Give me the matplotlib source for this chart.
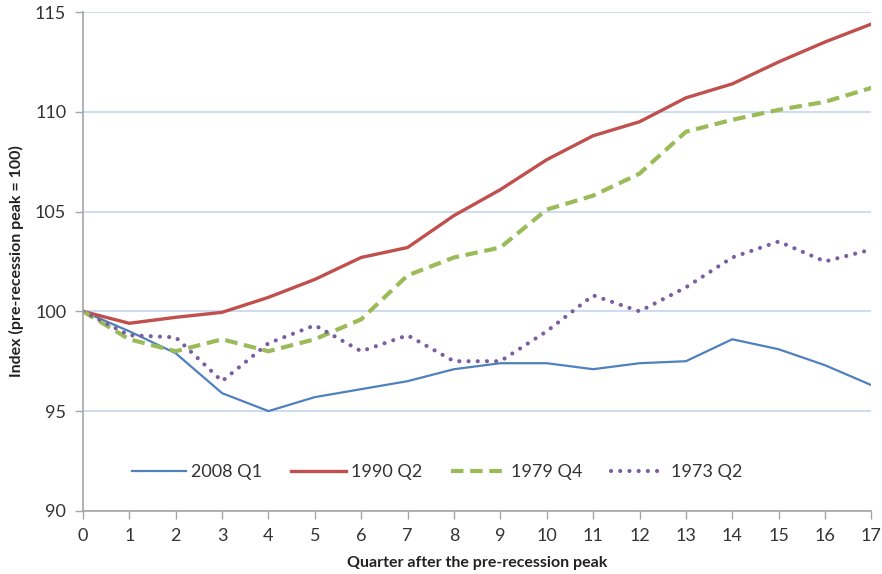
import matplotlib
matplotlib.use('Agg')
import matplotlib.pyplot as plt

# Data
quarters = list(range(18))
s2008 = [100, 99.0, 97.9, 95.9, 95.0, 95.7, 96.1, 96.5, 97.1, 97.4, 97.4, 97.1, 97.4, 97.5, 98.6, 98.1, 97.3, 96.3]
s1990 = [100, 99.4, 99.7, 99.95, 100.7, 101.6, 102.7, 103.2, 104.8, 106.1, 107.6, 108.8, 109.5, 110.7, 111.4, 112.5, 113.5, 114.4]
s1979 = [100, 98.6, 98.0, 98.6, 98.0, 98.6, 99.6, 101.8, 102.7, 103.2, 105.1, 105.8, 106.9, 109.0, 109.6, 110.1, 110.5, 111.2]
s1973 = [100, 98.8, 98.7, 96.5, 98.4, 99.3, 98.0, 98.8, 97.5, 97.5, 99.0, 100.8, 100.0, 101.2, 102.7, 103.5, 102.5, 103.1]
labels = ["2008 Q1", "1990 Q2", "1979 Q4", "1973 Q2"]
yticks = [90, 95, 100, 105, 110, 115]

plt.rcParams['font.family'] = ['Lato', 'DejaVu Sans']

fig = plt.figure(figsize=(8.82, 5.74), dpi=100)
ax = fig.add_axes([0.094, 0.11, 0.894, 0.869])

ax.plot(quarters, s2008, color='#4f81bd', lw=1.6, label=labels[0])
ax.plot(quarters, s1990, color='#c0504d', lw=2.4, label=labels[1])
ax.plot(quarters, s1979, color='#9bbb59', lw=3.0, ls=(0, (3, 1.6)), label=labels[2])
ax.plot(quarters, s1973, color='#7a5ea0', lw=3.0, ls=(0, (0.01, 2.2)),
        dash_capstyle='round', label=labels[3])

ax.set_xlim(0, 17)
ax.set_ylim(90, 115)
ax.set_xticks(quarters)
ax.set_yticks(yticks)
ax.yaxis.grid(True, color='#c6d5ec', lw=1.2)
ax.set_axisbelow(True)

for side in ['top', 'right']:
    ax.spines[side].set_visible(False)
for side in ['left', 'bottom']:
    ax.spines[side].set_color('#a6a6a6')
    ax.spines[side].set_linewidth(1.2)
ax.tick_params(axis='both', colors='#a6a6a6', length=6, width=1.0,
               labelcolor='#333333', labelsize=13)
ax.tick_params(axis='y', pad=6)
ax.tick_params(axis='x', pad=6)

ax.set_xlabel("Quarter after the pre-recession peak", fontsize=11.5,
              fontweight='bold', color='#222222', labelpad=9)
ax.set_ylabel("Index (pre-recession peak = 100)", fontsize=11.5,
              fontweight='bold', color='#222222', labelpad=8)

ax.legend(loc='center', bbox_to_anchor=(0.449, 0.078), ncol=4, frameon=False,
          fontsize=13, handlelength=3.0, columnspacing=1.6, handletextpad=0.3,
          labelcolor='#333333')

fig.savefig("out.png", dpi=100)
plt.close(fig)
